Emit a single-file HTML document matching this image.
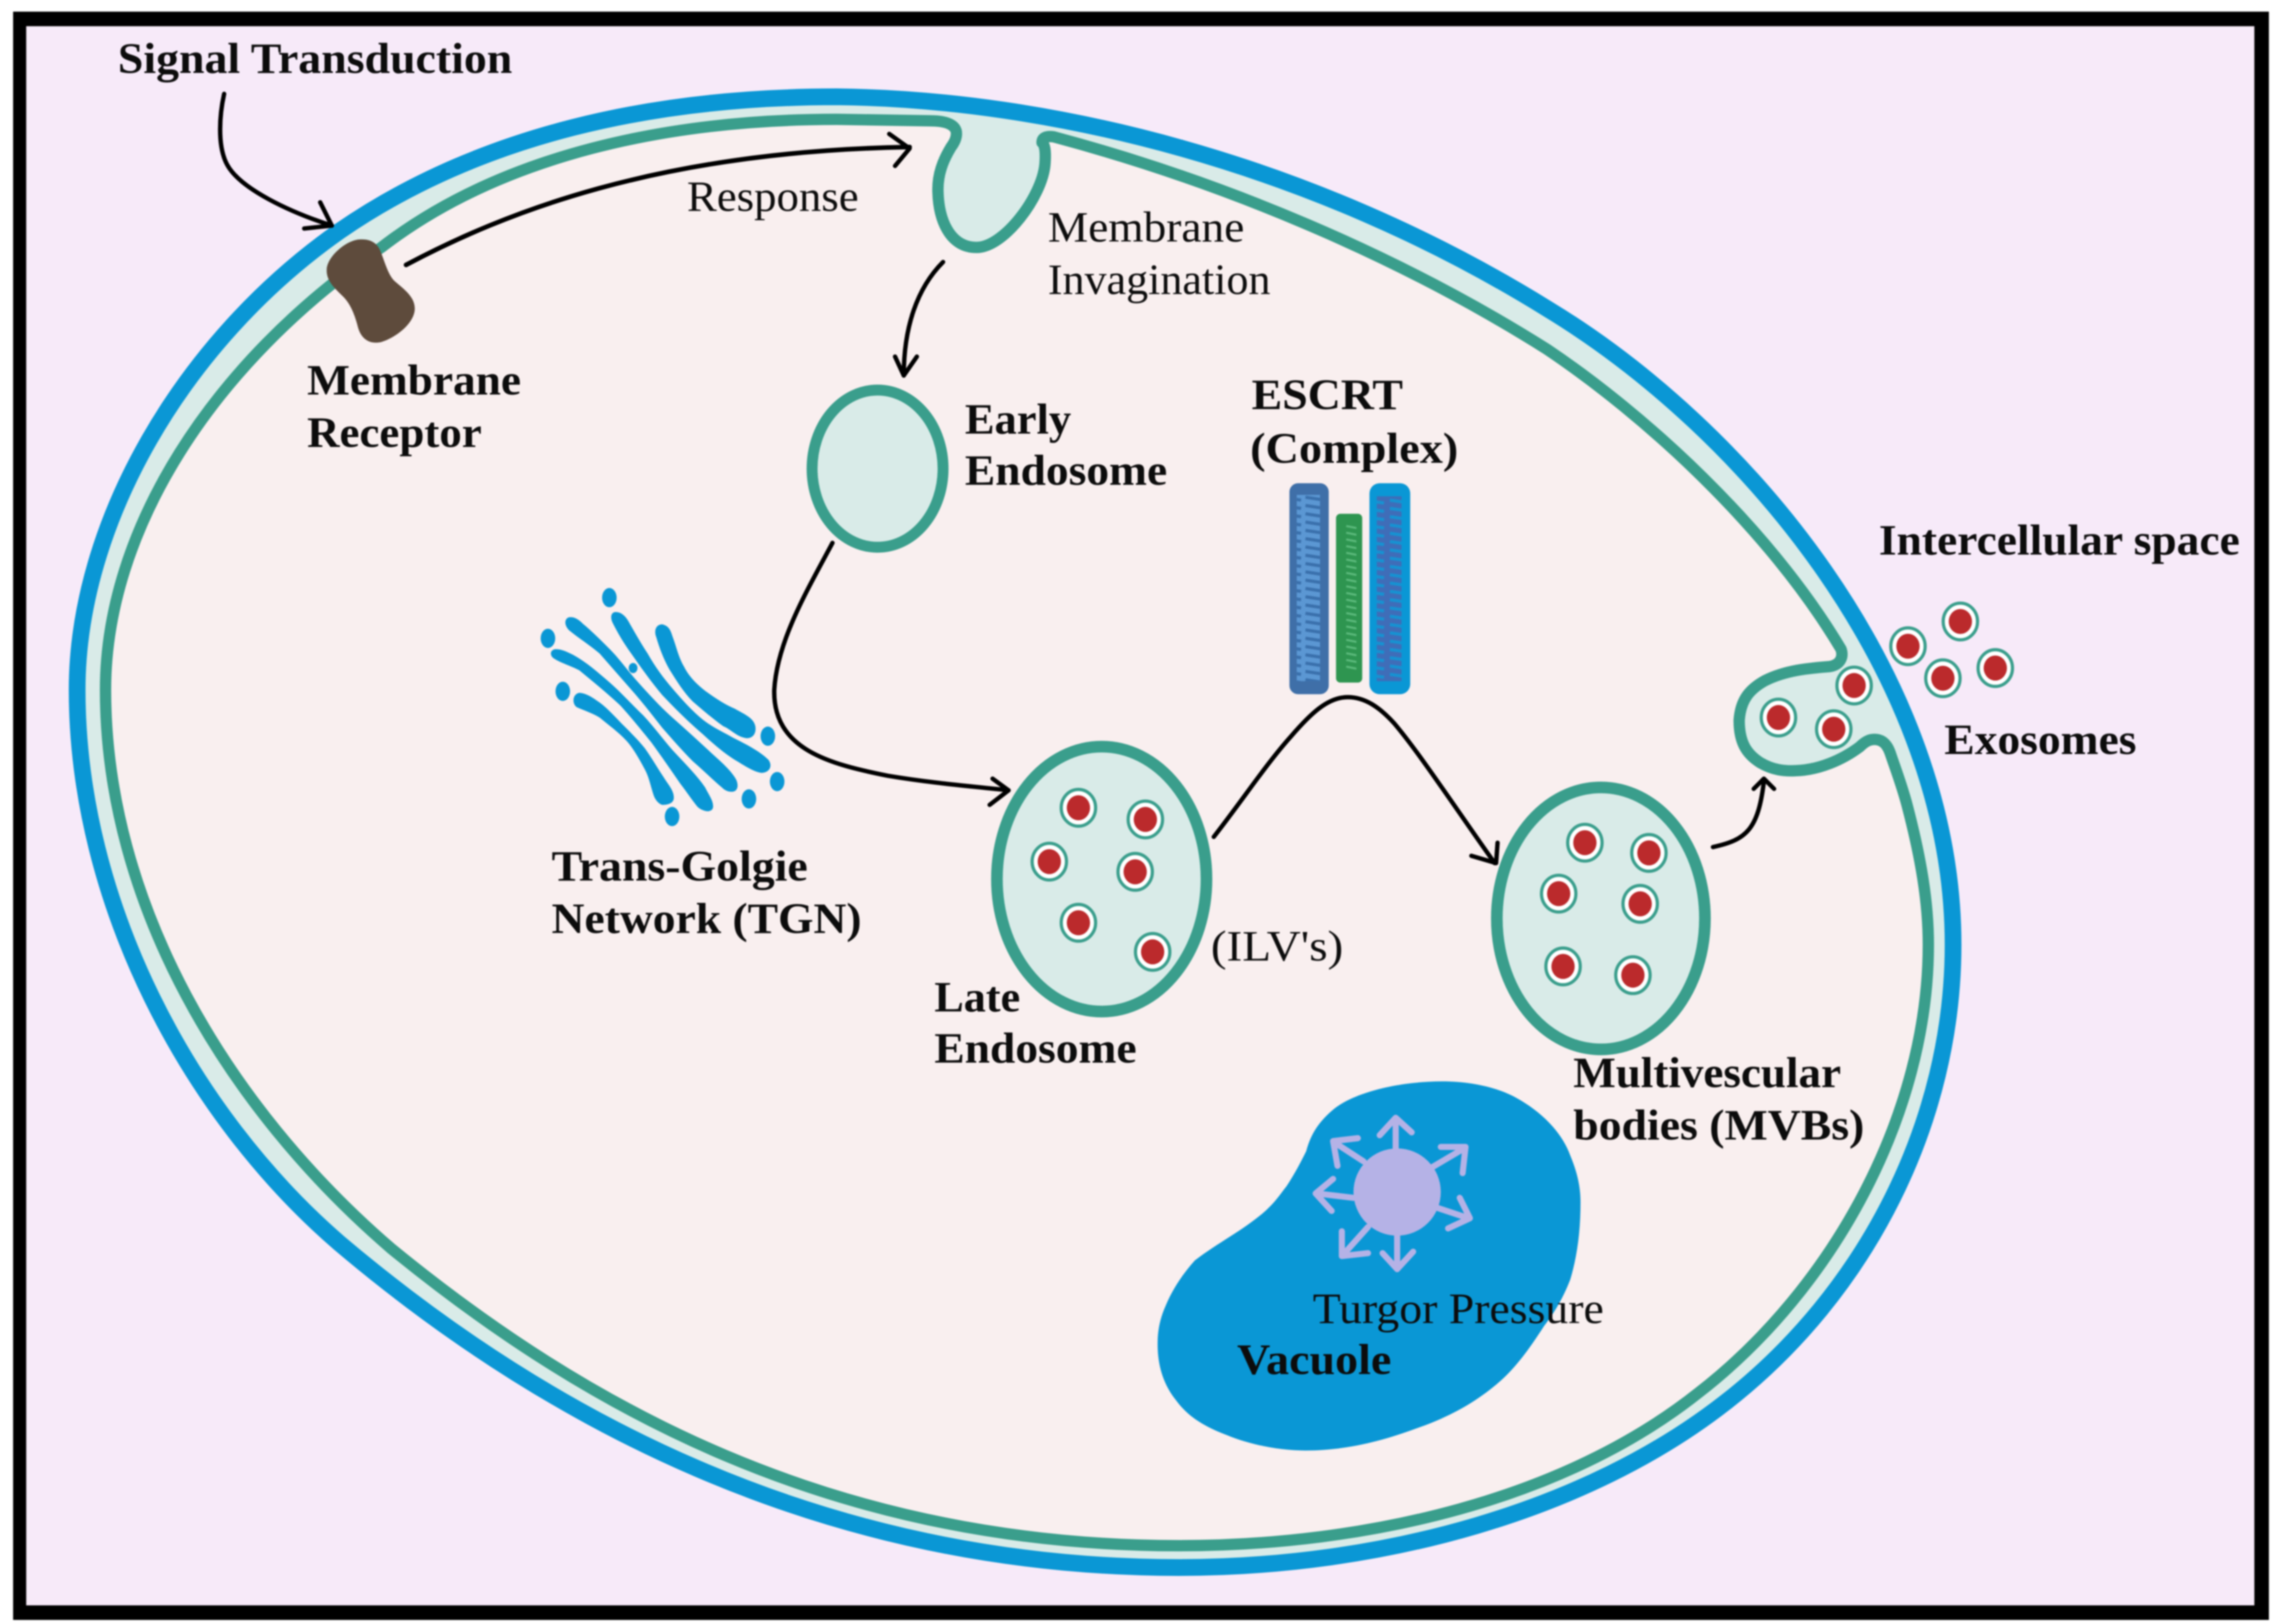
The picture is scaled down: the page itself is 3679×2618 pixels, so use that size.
<!DOCTYPE html>
<html>
<head>
<meta charset="utf-8">
<style>
html,body{margin:0;padding:0;background:#fff;width:3679px;height:2618px;overflow:hidden}
svg{display:block;filter:blur(1.4px)}
text{font-family:"Liberation Serif",serif;font-size:30px;fill:#0c0c0c}
.b{font-weight:bold}
</style>
</head>
<body>
<svg xmlns="http://www.w3.org/2000/svg" width="3679" height="2618" viewBox="0 0 1568 1115.8">
<defs>
<g id="ilv">
<ellipse cx="0" cy="0" rx="11.8" ry="12.6" fill="#fff" stroke="#3a9e8c" stroke-width="2.2"/>
<ellipse cx="0" cy="0" rx="8" ry="8.6" fill="#bb2a2c"/>
</g>
<pattern id="p1" x="0" y="340" width="16" height="5.7" patternUnits="userSpaceOnUse">
<path d="M1,1.6 L14,3.6" stroke="#3a70ac" stroke-width="2.2"/>
</pattern>
<pattern id="p2" x="0" y="360" width="12" height="4.6" patternUnits="userSpaceOnUse">
<path d="M1,1.4 L9,3" stroke="#5cba7c" stroke-width="1.4"/>
</pattern>
<pattern id="p3" x="0" y="342" width="18" height="5.7" patternUnits="userSpaceOnUse">
<path d="M1,1.6 L15,3.6" stroke="#1692d2" stroke-width="2.2"/>
</pattern>
</defs>

<!-- frame -->
<rect x="9" y="8" width="1550" height="1105" fill="#000"/>
<rect x="18" y="18" width="1531" height="1085" fill="#f7eaf9"/>

<!-- cell wall (blue) -->
<path d="M575,66.5 C720,68 900,111 1063,212 C1200,295 1342,465 1342,649 C1342,770 1283,888 1185,964 C1090,1038 950,1077 810,1077 C560,1077 370,970 233,854 C130,765 53,620 53,474 C53,360 125,235 233,159 C330,92 450,66.5 575,66.5 Z" fill="#d9ebe8" stroke="#0a97d5" stroke-width="11.5"/>

<!-- membrane (green) -->
<path d="M724,94 C840,125 960,175 1063,240 C1130,285 1215,362 1265,446 C1267,452 1264,457 1257,458 C1245,459 1228,460 1213,467.5 C1203,473 1196,480 1195,495 C1195,510 1200,518 1209.5,524 C1218,529 1226,530 1234,529.5 C1250,529 1266,522 1278,513 C1282,509 1285,508 1288,508 C1294,508 1297,512 1299,518 C1302,527 1307,540 1310.6,554 C1320,590 1325,620 1325,649 C1325,765 1260,885 1167,957 C1075,1030 940,1062 810,1062 C570,1062 400,965 269,858 C155,760 72.5,620 72.5,474 C72.5,365 145,250 262,170 C345,106 460,82 575,82 L639,83 Q655,83 657,90 Q658,95 653.5,101 C648,110 644,120 644.5,132 C645,150 652,170 671,170 C690,170 716,135 718,113 Q719,100 716,98 Q716,93 724,94 Z" fill="#f9efef" stroke="#3a9e8c" stroke-width="7.8" stroke-linejoin="round"/>

<!-- receptor -->
<path d="M247,164.5 C256,164 260,168 262,174 C265,182 267,189 271,193 C278,199 285,204 285,212 C285,222 272,232 262,235 C253,237 248,232 246,225 C244,217 241,209 236,204 C230,198 224,193 224.5,185 C225,176 238,165 247,164.5 Z" fill="#5e4b3c"/>

<!-- organelles -->
<ellipse cx="603" cy="322" rx="45" ry="54" fill="#d9ebe8" stroke="#3a9e8c" stroke-width="7.5"/>
<ellipse cx="757" cy="604" rx="72" ry="91" fill="#d9ebe8" stroke="#3a9e8c" stroke-width="8"/>
<ellipse cx="1100" cy="631" rx="71.5" ry="90" fill="#d9ebe8" stroke="#3a9e8c" stroke-width="8"/>

<use href="#ilv" x="741" y="555"/><use href="#ilv" x="787" y="563"/><use href="#ilv" x="721" y="592"/>
<use href="#ilv" x="780" y="599"/><use href="#ilv" x="741" y="634"/><use href="#ilv" x="792" y="654"/>
<use href="#ilv" x="1089" y="579"/><use href="#ilv" x="1133" y="586"/><use href="#ilv" x="1071" y="614"/>
<use href="#ilv" x="1127" y="621"/><use href="#ilv" x="1074" y="664"/><use href="#ilv" x="1122" y="670"/>
<use href="#ilv" x="1274" y="471"/><use href="#ilv" x="1222" y="493"/><use href="#ilv" x="1260" y="501"/>
<use href="#ilv" x="1311" y="444"/><use href="#ilv" x="1347" y="427"/><use href="#ilv" x="1335" y="466"/><use href="#ilv" x="1371" y="459"/>

<!-- Golgi -->
<g fill="#0a97d5">
<path d="M455,429 C460,430 461,434 462,437 C465,445 466,451 470,458 C474,466 480,471 485,475 C492,480 498,484 505,487 C510,490 518,493 519,499 C520,505 516,508 512,507 C506,506 502,501 497,499 C490,494 483,488 476,482 C470,476 465,468 460,460 C456,453 453,445 451,438 C449,433 451,429 455,429 Z"/>
<path d="M423,420.5 C428,420.5 431,425 433,429 C437,436 441,443 445,449 C450,458 456,466 462,473 C468,480 475,488 483,494.5 C490,500 497,503 504,507 C512,511 522,516 528,522 C531,526 529,531 523,531 C517,530 510,525 504,521.5 C497,517 490,511 483,504.5 C473,496 464,487 455,477.5 C447,468 440,458 433,448 C428,441 424,434 421,428 C419,424 420,420.5 423,420.5 Z"/>
<path d="M392,424 C396,424 399,427 401,429 C407,434 413,440 419,446 C425,452 430,459 436,466 C444,475 453,485 462,493 C471,501 481,510 490,518.5 C495,523 503,530 506,536 C508,541 506,544 503,544 C500,544 498,543 496,541 C490,536 483,529 476,523 C469,516 462,508 455,500 C448,491 441,482 433,473 C426,465 419,457 412,449 C405,443 397,438 391,433 C387,429 388,424 392,424 Z"/>
<path d="M382,446 C386,446 390,448 394,450 C403,455 411,462 419,469 C427,476 434,484 442,491.5 C450,500 457,510 465,518.5 C472,526 479,533 484.5,541 C487,546 490,550 490,554 C490,557 487,558 484,557 C481,556 480,555 479,554 C475,549 471,543 467.5,538.5 C461,529 454,519 447.5,510 C441,502 433,492 426,484.5 C417,476 407,468 398,460.5 C391,457 384,455 380,452 C377,449 379,446 382,446 Z"/>
<path d="M398,476 C402,476 407,479 411,482 C417,486 423,493 429,499 C434,504 439,509 443,514 C448,521 452,528 456,534 C459,539 463,543 463,548 C463,552 459,553 455,553 C452,552 450,549 449,546 C447,540 446,534 443,528.5 C439,521 435,514 430.5,509 C425,503 418,498 412,493 C407,490 401,488 396.5,486 C393,484 393,477 398,476 Z"/>
<ellipse cx="418.7" cy="410.6" rx="5" ry="6.6"/>
<ellipse cx="376.5" cy="438.6" rx="5" ry="6.6"/>
<ellipse cx="386.7" cy="475" rx="5" ry="6.6"/>
<ellipse cx="527.6" cy="505.8" rx="5" ry="6.6"/>
<ellipse cx="534" cy="537" rx="5" ry="6.6"/>
<ellipse cx="514.6" cy="548.9" rx="5" ry="6.6"/>
<ellipse cx="461.8" cy="561" rx="5" ry="6.6"/>
<ellipse cx="435" cy="459" rx="3" ry="3.5"/>
</g>

<!-- ESCRT -->
<rect x="886" y="332" width="27" height="145" rx="6" fill="#3f6fa8"/>
<rect x="891" y="340" width="16" height="128" fill="#5b97d3"/>
<rect x="891" y="340" width="16" height="128" fill="url(#p1)"/>
<rect x="918" y="353" width="18" height="116" rx="3" fill="#2e9550"/>
<rect x="922" y="360" width="10" height="102" fill="url(#p2)"/>
<rect x="941" y="332" width="28" height="145" rx="7" fill="#0a97d5"/>
<rect x="946" y="341" width="17" height="127" fill="#3f6db8"/>
<rect x="946" y="341" width="17" height="127" fill="url(#p3)"/>

<!-- Vacuole -->
<path d="M991,743 C1010,743 1030,747 1044,755.5 C1062,766 1074,780 1079,794 C1084,806 1086,816 1086,826 C1086,845 1084,862 1079,879 C1074,892 1068,902 1061,911 C1050,928 1040,942 1026,953 C1010,966 992,975 973,981.5 C950,990 925,996.6 897,996.6 C880,996.6 860,993 843,986 C827,980 816,973 808,962 C800,952 796,940 795.5,927 C795,915 797,906 801,897 C806,885 813,875 821,866 C838,853 855,845 870,831.5 C877,825 880,820 884,815 C890,806 894,798 897.5,791 C901,778 907,770 916.5,762 C930,751 960,743 991,743 Z" fill="#0a97d5"/>
<ellipse cx="960" cy="819" rx="30" ry="30" fill="#b5b2e6"/>
<g fill="none" stroke="#b5b2e6" stroke-width="4.2" stroke-linecap="round" stroke-linejoin="round">
<path d="M959,789 L959,769 M948,780 L959,768 L970,778"/>
<path d="M984,802 L1006,789 M990,788 L1007,788 L1005,806"/>
<path d="M937,798 L917,785 M933,782 L916,784 L919,801"/>
<path d="M930,823 L905,820 M916,810 L904,820 L915,832"/>
<path d="M988,830 L1009,837 M1003,823 L1010,837 L995,844"/>
<path d="M940,843 L923,862 M922,846 L922,863 L940,861"/>
<path d="M960,849 L960,871 M950,861 L960,872 L971,860"/>
</g>

<!-- Arrows -->
<g fill="none" stroke="#000" stroke-width="3" stroke-linecap="round" stroke-linejoin="round">
<path d="M154,64.5 C151,78 149,100 156,113 C165,130 200,146 228,155"/>
<path d="M220,139 L228,155 L209,157"/>
<path d="M279,182 C345,147 450,104 625,101" stroke-width="3.2"/>
<path d="M611,92 L625,102 L615,114"/>
<path d="M648,180 C630,198 621,225 621,258"/>
<path d="M615,245 L621,258 L630,245"/>
<path d="M572,373 C555,405 534,440 532,474 C531,515 570,525 610,533 C640,538 665,540 693,543"/>
<path d="M682,535 L693,543 L680,553"/>
<path d="M834,575 C855,548 870,525 887,506 C900,491 912,479 926,479 C938,479 948,486 958,497 C975,517 1000,555 1027,593"/>
<path d="M1011,588 L1028,593 L1029,579"/>
<path d="M1177,582 C1200,577 1208,570 1212,537"/>
<path d="M1205,542 L1212,535 L1219,542"/>
</g>

<!-- Labels -->
<text class="b" x="81" y="50" textLength="271" lengthAdjust="spacingAndGlyphs">Signal Transduction</text>
<text class="b" x="211" y="271" textLength="147" lengthAdjust="spacingAndGlyphs">Membrane</text>
<text class="b" x="211" y="307" textLength="120" lengthAdjust="spacingAndGlyphs">Receptor</text>
<text x="472" y="145" textLength="118" lengthAdjust="spacingAndGlyphs">Response</text>
<text x="720" y="166" textLength="135" lengthAdjust="spacingAndGlyphs">Membrane</text>
<text x="720" y="202" textLength="153" lengthAdjust="spacingAndGlyphs">Invagination</text>
<text class="b" x="663" y="298" textLength="73" lengthAdjust="spacingAndGlyphs">Early</text>
<text class="b" x="663" y="333" textLength="139" lengthAdjust="spacingAndGlyphs">Endosome</text>
<text class="b" x="860" y="281" textLength="104" lengthAdjust="spacingAndGlyphs">ESCRT</text>
<text class="b" x="859" y="318" textLength="143" lengthAdjust="spacingAndGlyphs">(Complex)</text>
<text class="b" x="1291" y="381" textLength="248" lengthAdjust="spacingAndGlyphs">Intercellular space</text>
<text class="b" x="1336" y="518" textLength="132" lengthAdjust="spacingAndGlyphs">Exosomes</text>
<text class="b" x="379" y="605" textLength="176" lengthAdjust="spacingAndGlyphs">Trans-Golgie</text>
<text class="b" x="379" y="641" textLength="213" lengthAdjust="spacingAndGlyphs">Network (TGN)</text>
<text class="b" x="642" y="695" textLength="59" lengthAdjust="spacingAndGlyphs">Late</text>
<text class="b" x="642" y="730" textLength="139" lengthAdjust="spacingAndGlyphs">Endosome</text>
<text x="832" y="660" textLength="91" lengthAdjust="spacingAndGlyphs">(ILV's)</text>
<text class="b" x="1081" y="747" textLength="184" lengthAdjust="spacingAndGlyphs">Multivescular</text>
<text class="b" x="1081" y="783" textLength="200" lengthAdjust="spacingAndGlyphs">bodies (MVBs)</text>
<text x="902" y="909" textLength="200" lengthAdjust="spacingAndGlyphs">Turgor Pressure</text>
<text class="b" x="850" y="944" textLength="106" lengthAdjust="spacingAndGlyphs">Vacuole</text>
</svg>
</body>
</html>
